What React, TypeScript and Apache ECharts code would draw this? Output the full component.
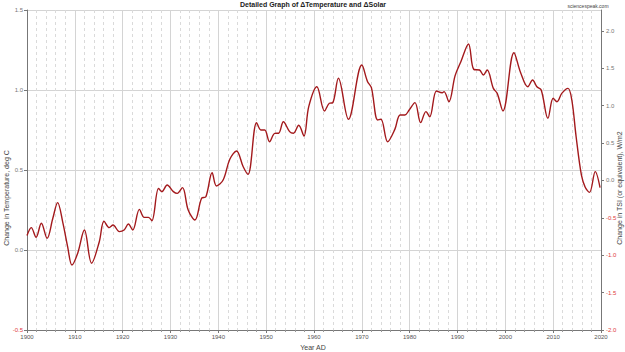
import React, { useEffect, useRef } from "react";
import * as echarts from "echarts";

const years: number[] = [
  1900, 1900.9, 1901.9, 1903.0, 1904.2, 1905.4, 1906.4, 1907.5, 1908.5, 1909.4,
  1910.6, 1912.0, 1913.5, 1915.1, 1916.1, 1917.2, 1918.0, 1919.3, 1920.3, 1921.2,
  1922.1, 1923.5, 1924.5, 1925.4, 1926.1, 1927.5, 1928.2, 1929.3, 1930.6, 1931.4,
  1932.5, 1933.7, 1935.1, 1936.5, 1937.4, 1938.7, 1939.6, 1941.0, 1942.4, 1943.8,
  1945.2, 1946.2, 1948.0, 1948.9, 1949.7, 1950.7, 1951.8, 1952.6, 1953.6, 1954.9,
  1955.7, 1956.8, 1957.9, 1958.9, 1960.6, 1962.2, 1963.2, 1963.9, 1965.1, 1967.2,
  1970.0, 1971.2, 1972.0, 1973.3, 1974.0, 1975.4, 1976.9, 1978.0, 1979.0, 1979.9,
  1981.1, 1982.3, 1983.4, 1984.2, 1985.6, 1986.8, 1987.2, 1988.2, 1989.5, 1990.7,
  1992.3, 1993.4, 1994.6, 1995.4, 1996.2, 1997.5, 1998.3, 1999.5, 2001.8, 2003.2,
  2004.7, 2005.7, 2006.6, 2007.5, 2008.9, 2010.0, 2010.8, 2011.8, 2013.1, 2013.9,
  2014.8, 2015.9, 2016.7, 2017.6, 2018.8, 2019.8,
];

const temps: number[] = [
  0.09, 0.14, 0.08, 0.167, 0.073, 0.198, 0.296, 0.17, 0.02, -0.094,
  -0.02, 0.125, -0.083, 0.05, 0.18, 0.14, 0.156, 0.115, 0.125, 0.1625,
  0.125, 0.254, 0.204, 0.204, 0.183, 0.385, 0.365, 0.406, 0.365, 0.354,
  0.39, 0.25, 0.1875, 0.323, 0.333, 0.483, 0.4, 0.4375, 0.567, 0.619,
  0.52, 0.473, 0.796, 0.75, 0.75, 0.677, 0.729, 0.73, 0.802, 0.74,
  0.73, 0.78, 0.7125, 0.896, 1.02, 0.869, 0.917, 0.92, 1.073, 0.817,
  1.156, 1.052, 1.015, 0.8125, 0.817, 0.677, 0.754, 0.844, 0.844, 0.875,
  0.921, 0.796, 0.865, 0.833, 0.994, 0.983, 0.99, 0.927, 1.09, 1.177,
  1.2875, 1.129, 1.125, 1.094, 1.125, 1.01, 0.979, 0.869, 1.233, 1.108,
  1.02, 1.0625, 1.02, 1.0, 0.823, 0.948, 0.927, 0.979, 1.01, 0.9375,
  0.708, 0.469, 0.392, 0.36, 0.49, 0.39,
];

const titleText = "Detailed Graph of \u0394Temperature and \u0394Solar";
const sourceText = "sciencespeak.com";
const xName = "Year AD";
const leftName = "Change in Temperature, deg C";
const rightName = "Change in TSI (or equivalent), W/m2";

const FONT = "'Liberation Sans', Arial, sans-serif";
const GRAY = "#777777";
const RED = "#e0393e";

export default function App() {
  const ref = useRef<HTMLDivElement>(null);
  useEffect(() => {
    if (!ref.current) return;
    const chart = echarts.init(ref.current, null, { renderer: "svg" });
    chart.setOption({
      animation: false,
      backgroundColor: "#ffffff",
      textStyle: { fontFamily: FONT },
      grid: { left: 27, right: 24, top: 10, bottom: 22, containLabel: false },
      graphic: [
        {
          type: "text",
          x: 313,
          y: 1,
          style: {
            text: titleText,
            font: `bold 7px ${FONT}`,
            fill: "#222",
            align: "center",
            verticalAlign: "top",
          },
        },
        {
          type: "text",
          x: 588,
          y: 3,
          style: {
            text: sourceText,
            font: `5px ${FONT}`,
            fill: "#444",
            align: "center",
            verticalAlign: "top",
          },
        },
        {
          type: "text",
          x: 6,
          y: 198,
          rotation: Math.PI / 2,
          style: {
            text: leftName,
            font: `7px ${FONT}`,
            fill: "#444",
            align: "center",
            verticalAlign: "middle",
          },
        },
        {
          type: "text",
          x: 619,
          y: 188,
          rotation: Math.PI / 2,
          style: {
            text: rightName,
            font: `7px ${FONT}`,
            fill: "#444",
            align: "center",
            verticalAlign: "middle",
          },
        },
        {
          type: "text",
          x: 313,
          y: 347,
          style: {
            text: xName,
            font: `7px ${FONT}`,
            fill: "#444",
            align: "center",
            verticalAlign: "middle",
          },
        },
      ],
      xAxis: {
        type: "value",
        min: 1900,
        max: 2020,
        interval: 10,
        axisLine: { show: true, onZero: false, lineStyle: { color: "#777", width: 1 } },
        axisTick: { show: true, length: 3, lineStyle: { color: "#777" } },
        minorTick: { show: true, splitNumber: 5, length: 2, lineStyle: { color: "#999" } },
        axisLabel: {
          fontSize: 6,
          color: "#555",
          margin: 4,
          formatter: (v: number) => String(v),
        },
        splitLine: { show: true, lineStyle: { color: "#d4d4d4", width: 1 } },
        minorSplitLine: {
          show: true,
          lineStyle: { color: "#dadada", width: 1, type: [3, 3] },
        },
      },
      yAxis: [
        {
          type: "value",
          position: "left",
          min: -0.5,
          max: 1.5,
          interval: 0.5,
          axisLine: { show: true, onZero: false, lineStyle: { color: "#777" } },
          axisTick: { show: true, length: 3, lineStyle: { color: "#777" } },
          axisLabel: {
            fontSize: 6,
            margin: 4,
            color: (v: any) => (Number(v) < 0 ? RED : GRAY),
            formatter: (v: number) => v.toFixed(1),
          },
          splitLine: { show: true, lineStyle: { color: "#d4d4d4", width: 1 } },
        },
        {
          type: "value",
          position: "right",
          min: -2,
          max: 2.28,
          interval: 0.5,
          axisLine: { show: true, onZero: false, lineStyle: { color: "#777" } },
          axisTick: { show: true, length: 3, lineStyle: { color: "#777" } },
          axisLabel: {
            fontSize: 6,
            margin: 5,
            showMaxLabel: false,
            color: (v: any) => (Number(v) < 0 ? RED : GRAY),
            formatter: (v: number) => v.toFixed(1),
          },
          splitLine: { show: false },
        },
      ],
      series: [
        {
          type: "line",
          yAxisIndex: 0,
          data: years.map((y, i) => [y, temps[i]]),
          smooth: 0.35,
          showSymbol: false,
          symbol: "none",
          lineStyle: { color: "#a3191c", width: 1.4 },
        },
      ],
    });
    return () => chart.dispose();
  }, []);
  return (
    <div
      ref={ref}
      style={{ position: "absolute", left: 0, top: 0, width: 625, height: 352 }}
    />
  );
}
